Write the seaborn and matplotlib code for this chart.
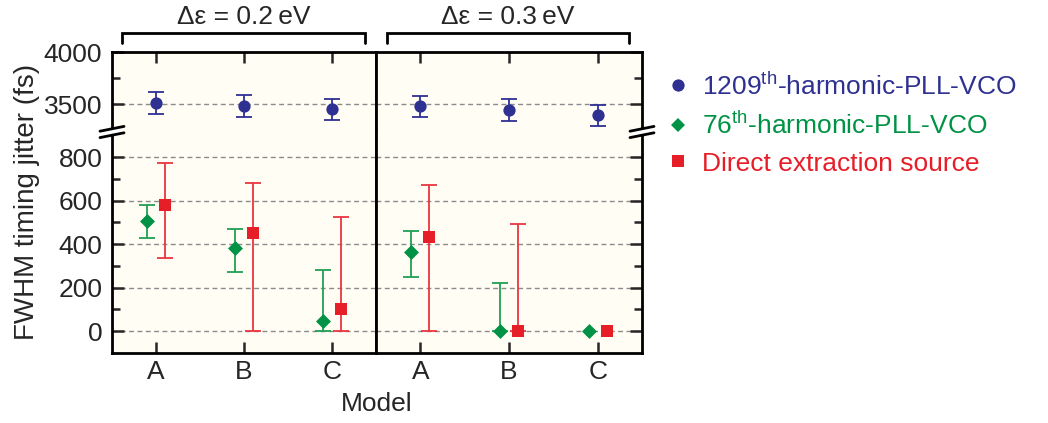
import numpy as np
import pandas as pd
import matplotlib
matplotlib.use("Agg")
import matplotlib.pyplot as plt
from matplotlib.lines import Line2D
from matplotlib.patches import Polygon
from matplotlib.ticker import FixedLocator
import seaborn as sns

# ---- data (FWHM timing jitter, fs) ----
models = ["A", "B", "C"]
panel_titles = ["\u0394\u03b5 = 0.2\u2009eV", "\u0394\u03b5 = 0.3\u2009eV"]

# 1209th-harmonic PLL-VCO
vco1209_02 = [3505, 3480, 3450]
vco1209_02_lo = [3400, 3375, 3346]
vco1209_02_hi = [3612, 3583, 3551]
vco1209_03 = [3480, 3440, 3390]
vco1209_03_lo = [3375, 3333, 3284]
vco1209_03_hi = [3580, 3545, 3493]

# 76th-harmonic PLL-VCO
vco76_02 = [505, 382, 47]
vco76_02_lo = [428, 272, 0]
vco76_02_hi = [578, 472, 281]
vco76_03 = [365, 0, 0]
vco76_03_lo = [249, 0, 0]
vco76_03_hi = [460, 223, 0]

# Direct extraction source
direct_02 = [578, 450, 104]
direct_02_lo = [335, 0, 0]
direct_02_hi = [774, 682, 524]
direct_03 = [433, 0, 0]
direct_03_lo = [0, 0, 0]
direct_03_hi = [673, 492, 0]

legend_labels = [r"1209$^{\rm th}$-harmonic-PLL-VCO",
                 r"76$^{\rm th}$-harmonic-PLL-VCO",
                 "Direct extraction source"]

# ---- style ----
sns.set_theme(style="ticks")
plt.rcParams["font.family"] = ["Liberation Sans", "DejaVu Sans"]
plt.rcParams["mathtext.fontset"] = "custom"
plt.rcParams["mathtext.rm"] = "Liberation Sans"
plt.rcParams["mathtext.it"] = "Liberation Sans:italic"
plt.rcParams["mathtext.bf"] = "Liberation Sans:bold"

BLUE = "#2e3192"
GREEN = "#009245"
GREEN_BAR = "#20a055"
RED = "#e61e28"
RED_BAR = "#ea3540"
BG = "#fffdf4"
FS = 19

W, H = 1048, 423
fig = plt.figure(figsize=(W / 100, H / 100), dpi=100)


def fx(px):
    return px / W


def fy(py):
    return 1 - py / H


X0, XM, X1 = 112, 376, 642
YTOP, YBRK, YBOT = 52, 130, 353

series = [
    dict(name="1209", vals=[vco1209_02, vco1209_03], lo=[vco1209_02_lo, vco1209_03_lo],
         hi=[vco1209_02_hi, vco1209_03_hi], marker="o", s=78, color=BLUE, bar=BLUE,
         offset=0.0, upper=True),
    dict(name="76", vals=[vco76_02, vco76_03], lo=[vco76_02_lo, vco76_03_lo],
         hi=[vco76_02_hi, vco76_03_hi], marker="D", s=58, color=GREEN, bar=GREEN_BAR,
         offset=-0.1, upper=False),
    dict(name="direct", vals=[direct_02, direct_03], lo=[direct_02_lo, direct_03_lo],
         hi=[direct_02_hi, direct_03_hi], marker="s", s=64, color=RED, bar=RED_BAR,
         offset=0.1, upper=False),
]

grid_kw = dict(color="#8a8a8a", lw=1.0, ls=(0, (3.5, 2.5)), zorder=0.5)
lw_spine = 2.0

for p, (l, r) in enumerate([(X0, XM), (XM, X1)]):
    ax_hi = fig.add_axes([fx(l), fy(YBRK), fx(r) - fx(l), fy(YTOP) - fy(YBRK)])
    ax_lo = fig.add_axes([fx(l), fy(YBOT), fx(r) - fx(l), fy(YBRK) - fy(YBOT)])

    for ax in (ax_hi, ax_lo):
        ax.set_facecolor(BG)
        ax.set_xlim(-0.5, 2.5)
        for sp in ax.spines.values():
            sp.set_linewidth(lw_spine)
            sp.set_color("black")

    ax_hi.set_ylim(3250, 4000)
    ax_lo.set_ylim(-100, 925)
    ax_hi.spines["bottom"].set_visible(False)
    ax_lo.spines["top"].set_visible(False)

    for y in (3500,):
        ax_hi.axhline(y, **grid_kw)
    for y in (0, 200, 400, 600, 800):
        ax_lo.axhline(y, **grid_kw)

    # markers and error bars
    for s in series:
        ax = ax_hi if s["upper"] else ax_lo
        vals = np.array(s["vals"][p], dtype=float)
        lo = np.array(s["lo"][p], dtype=float)
        hi = np.array(s["hi"][p], dtype=float)
        xpos = np.arange(len(models)) + s["offset"]
        df = pd.DataFrame({"x": xpos, "y": vals, "model": models})
        has_bar = hi > lo
        ax.errorbar(xpos[has_bar], vals[has_bar],
                    yerr=[vals[has_bar] - lo[has_bar], hi[has_bar] - vals[has_bar]],
                    fmt="none", ecolor=s["bar"], elinewidth=1.3, capsize=6,
                    capthick=1.3, zorder=2, clip_on=False)
        sns.scatterplot(data=df, x="x", y="y", ax=ax, marker=s["marker"], s=s["s"],
                        color=s["color"], linewidth=0, zorder=3, legend=False,
                        clip_on=False)
        ax.set_xlabel("")
        ax.set_ylabel("")

    # ticks
    ax_hi.yaxis.set_major_locator(FixedLocator([3500, 4000]))
    ax_hi.yaxis.set_minor_locator(FixedLocator([3750]))
    ax_lo.yaxis.set_major_locator(FixedLocator([0, 200, 400, 600, 800]))
    ax_lo.yaxis.set_minor_locator(FixedLocator([100, 300, 500, 700]))
    ax_hi.set_xticks(range(len(models)))
    ax_lo.set_xticks(range(len(models)))

    left_side = p == 0
    for ax in (ax_hi, ax_lo):
        ax.tick_params(axis="y", which="both", direction="in", width=1.8,
                       left=left_side, right=not left_side,
                       labelleft=left_side, labelright=False,
                       labelsize=FS, pad=7)
        ax.tick_params(axis="y", which="major", length=8.5)
        ax.tick_params(axis="y", which="minor", length=6)
    ax_hi.tick_params(axis="x", which="both", direction="in", length=8, width=1.8,
                      top=True, bottom=False, labeltop=False, labelbottom=False)
    ax_lo.tick_params(axis="x", which="both", direction="in", length=8, width=1.8,
                      top=False, bottom=True, labelbottom=True, labelsize=FS, pad=5)
    ax_lo.set_xticklabels(models)

    # bracket with panel title
    bl, br = (122, 365) if p == 0 else (387, 629)
    fig.add_artist(Line2D([fx(bl), fx(bl), fx(br), fx(br)],
                          [fy(43), fy(33), fy(33), fy(43)],
                          color="black", lw=2.0, solid_joinstyle="miter"))
    fig.text(fx((bl + br) / 2), fy(17), panel_titles[p], ha="center", va="center",
             fontsize=FS)


# axis break marks on the outer spines
def break_mark(xc, yc):
    half_w, slope, gap = 12, 2.4, 3.2
    xs = [xc - half_w, xc + half_w]
    up = [yc - gap + slope, yc - gap - slope]
    dn = [yc + gap + slope, yc + gap - slope]
    fig.add_artist(Polygon([[fx(xs[0]), fy(up[0])], [fx(xs[1]), fy(up[1])],
                            [fx(xs[1]), fy(dn[1])], [fx(xs[0]), fy(dn[0])]],
                           closed=True, facecolor="white", edgecolor="none",
                           transform=fig.transFigure, zorder=10))
    for ys in (up, dn):
        fig.add_artist(Line2D([fx(xs[0]), fx(xs[1])], [fy(ys[0]), fy(ys[1])],
                              color="black", lw=2.0, zorder=11))


break_mark(X0, 132)
break_mark(X1, 132)

# axis titles
fig.text(fx(27), fy(202), "FWHM timing jitter (fs)", rotation=90, ha="center",
         va="center", fontsize=FS + 1)
fig.text(fx((X0 + X1) / 2), fy(404), "Model", ha="center", va="center", fontsize=FS)

# legend
handles = [Line2D([], [], ls="none", marker=s["marker"], color=s["color"],
                  markersize=np.sqrt(s["s"]), markeredgewidth=0) for s in series]
fig.legend(handles, legend_labels, loc="center left",
           bbox_to_anchor=(fx(666), fy(124)), frameon=False, fontsize=FS,
           labelcolor=[BLUE, GREEN, RED], handlelength=0.9, handletextpad=0.45,
           labelspacing=0.47, borderaxespad=0, borderpad=0)

fig.savefig("out.png", dpi=100)
